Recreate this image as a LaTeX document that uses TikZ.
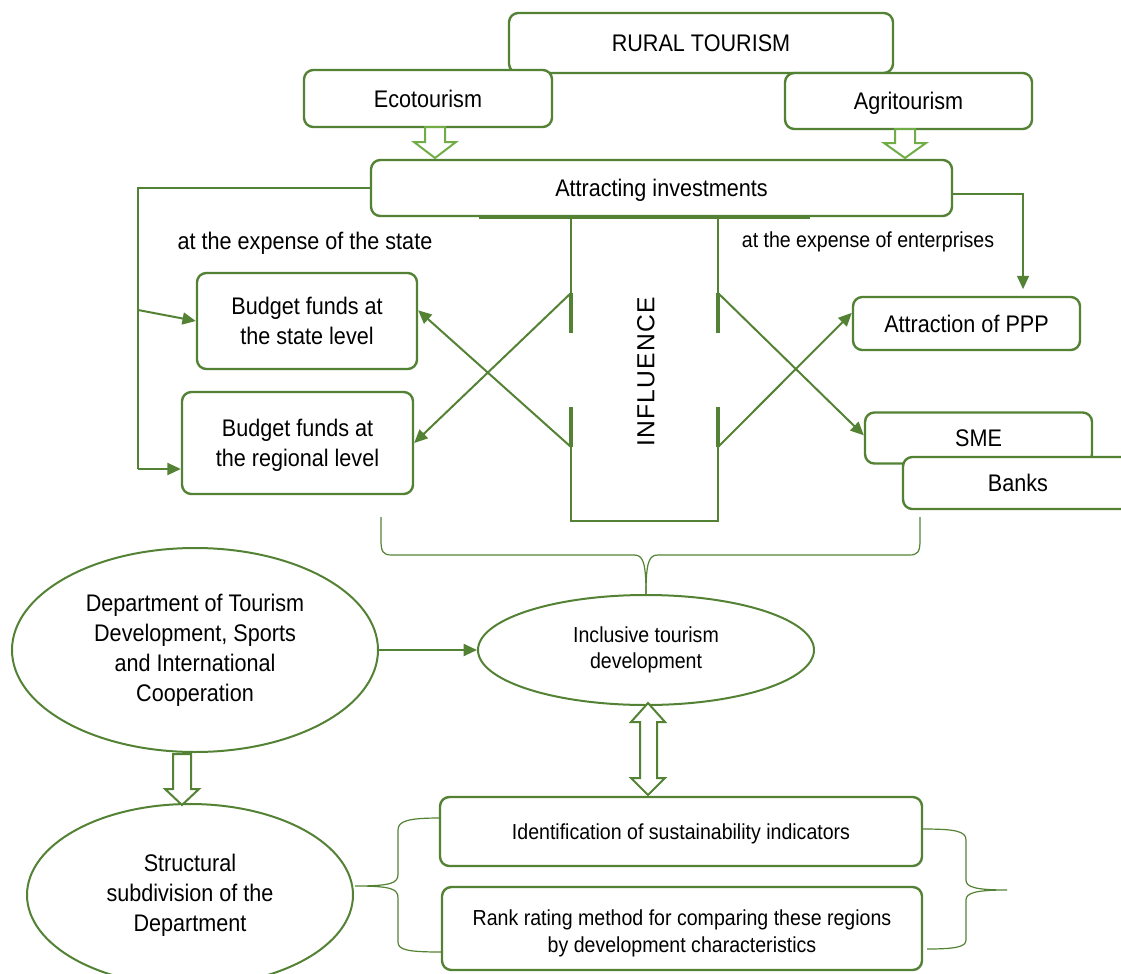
\documentclass[tikz,border=0pt]{standalone}
\usepackage{fontspec}
\setmainfont{Liberation Sans}[FakeStretch=0.9]
\newfontfamily\inflfont{Liberation Sans}[LetterSpace=5]
\usetikzlibrary{arrows.meta,shapes.geometric,calc}
\definecolor{gdark}{HTML}{548235}
\definecolor{glight}{HTML}{70AD47}
\newcommand\bigtext{\fontsize{18}{22.5}\selectfont}
\newcommand\smalltext{\fontsize{16.3}{20}\selectfont}
\tikzset{
 box/.style={draw=gdark, line width=1.8pt, rounded corners=7pt, fill=white, align=center, inner sep=0pt, text depth=0pt, font=\bigtext},
 sz/.style 2 args={minimum width=#1*0.75pt, minimum height=#2*0.75pt},
 oval/.style={ellipse, draw=gdark, line width=1.5pt, fill=white, align=center, inner sep=0pt, font=\bigtext},
 conn/.style={draw=gdark, line width=1.5pt, -{Triangle[length=10pt,width=9pt]}},
 thinln/.style={draw=gdark, line width=0.9pt},
 hollow/.style={draw=gdark, line width=1.5pt, fill=white, line join=miter},
}
\begin{document}
\begin{tikzpicture}[x=0.75pt,y=-0.75pt]
\useasboundingbox (0,0) rectangle (1121,974);

% top boxes
\node[box, sz={384}{60}] (rural) at (701,43) {RURAL TOURISM};
\node[box, sz={248}{57}] (eco) at (428,98.5) {Ecotourism};
\node[box, sz={247}{56}] (agri) at (908.5,101) {Agritourism};

% hollow arrows
\draw[hollow, draw=glight] (425,127) -- (445,127) -- (445,142) -- (456,142) -- (435,158) -- (414,142) -- (425,142) -- cycle;
\draw[hollow, draw=glight] (895,129) -- (915,129) -- (915,143) -- (926,143) -- (905,158) -- (884,143) -- (895,143) -- cycle;

% influence shape
\draw[gdark, line width=1.8pt] (479,218) -- (810,218);
\draw[gdark, line width=1.5pt] (571,218) -- (571,333) (571,407) -- (571,521) -- (718,521) -- (718,407) (718,333) -- (718,218);
\draw[gdark, line width=3pt] (571,293) -- (571,333) (571,407) -- (571,447) (718,293) -- (718,333) (718,407) -- (718,447);
\coordinate (iul) at (571,293);
\coordinate (ill) at (571,447);
\coordinate (iur) at (718,293);
\coordinate (ilr) at (718,447);
\node[rotate=90, font=\inflfont\fontsize{18.5}{22}\selectfont] (infl) at (646,372) {INFLUENCE};

\node[box, sz={581}{56}] (attr) at (661.5,188) {Attracting investments};

\node[font=\bigtext] (lstate) at (305,243) {at the expense of the state};
\node[font=\smalltext] (lent) at (868,242) {at the expense of enterprises};

\node[box, sz={220}{96}] (bstate) at (307,321) {Budget funds at\\the state level};
\node[box, sz={231}{102}] (breg) at (297.5,443) {Budget funds at\\the regional level};
\node[box, sz={227}{53}] (ppp) at (966.5,323.5) {Attraction of PPP};
\node[box, sz={227}{51}] (sme) at (978.5,438) {SME};
\node[box, sz={230}{52}] (banks) at (1018,483) {Banks};

% diagonals
\draw[conn] (iul) -- (breg.east);
\draw[conn] (ill) -- ([yshift=8pt]bstate.east);
\draw[conn] (iur) -- ([yshift=2pt]sme.west);
\draw[conn] (ilr) -- ([yshift=8pt]ppp.west);

% left feeder
\coordinate (fl) at (138,188);
\coordinate (fm) at (138,310);
\coordinate (fb) at (138,469);
\draw[thinln] (attr.west) -- (fl) -- (fb);
\draw[conn] (fm) -- (bstate.west);
\draw[conn] (fb) -- ([yshift=-19.5pt]breg.west);

% right feeder
\draw[thinln, line width=1.2pt, -{Triangle[length=10pt,width=9pt]}] ([yshift=-4.5pt]attr.east) -| ([xshift=42.4pt, yshift=5pt]ppp.north);

% lower part
\node[oval, sz={336}{110}, font=\smalltext] (incl) at (646,650) {Inclusive tourism\\development};
\node[oval, sz={366}{204}] (dept) at (195,650) {Department of Tourism\\Development, Sports\\and International\\Cooperation};
\node[oval, sz={326}{182}] (struct) at (190,895) {Structural\\subdivision of the\\Department};
\node[box, sz={482}{69}, font=\smalltext] (ident) at (681,831.5) {Identification of sustainability indicators};
\node[box, sz={480}{83}, label={[yshift=-3.5pt, align=center, font=\smalltext]center:Rank rating method for comparing these regions\\by development characteristics}] (rank) at (682,928.5) {};

\draw[conn] (dept.east) -- (incl.west);

% brace under influence
\draw[thinln] (381,517) -- (381,540) .. controls (381,552) and (383,555) .. (392,555) -- (634,555) .. controls (643,555) and (646,562) .. (incl.north);
\draw[thinln] (incl.north) .. controls (646,562) and (649,555) .. (658,555) -- (909,555) .. controls (918,555) and (920,552) .. (920,540) -- (920,517);

% hollow arrow dept -> struct
\draw[hollow] (173,754) -- (191,754) -- (191,789) -- (199,789) -- (182,805) -- (165,789) -- (173,789) -- cycle;

% double arrow
\draw[hollow] (648,703) -- (665,722) -- (657,722) -- (657,778) -- (665,778) -- (648,795) -- (631,778) -- (640,778) -- (640,722) -- (631,722) -- cycle;

% left brace
\draw[thinln] (440,818) .. controls (408,818) and (398,821) .. (398,830) -- (398,874) .. controls (398,883) and (392,886) .. (355,886) .. controls (392,886) and (398,889) .. (398,898) -- (398,942) .. controls (398,950) and (408,952) .. (441,952);
% right brace
\draw[thinln] (922,829) .. controls (955,829) and (966,831) .. (966,840) -- (966,880) .. controls (966,887) and (975,890) .. (1007,890) .. controls (975,890) and (966,893) .. (966,900) -- (966,940) .. controls (966,947) and (955,949) .. (927,949);
\end{tikzpicture}
\end{document}
